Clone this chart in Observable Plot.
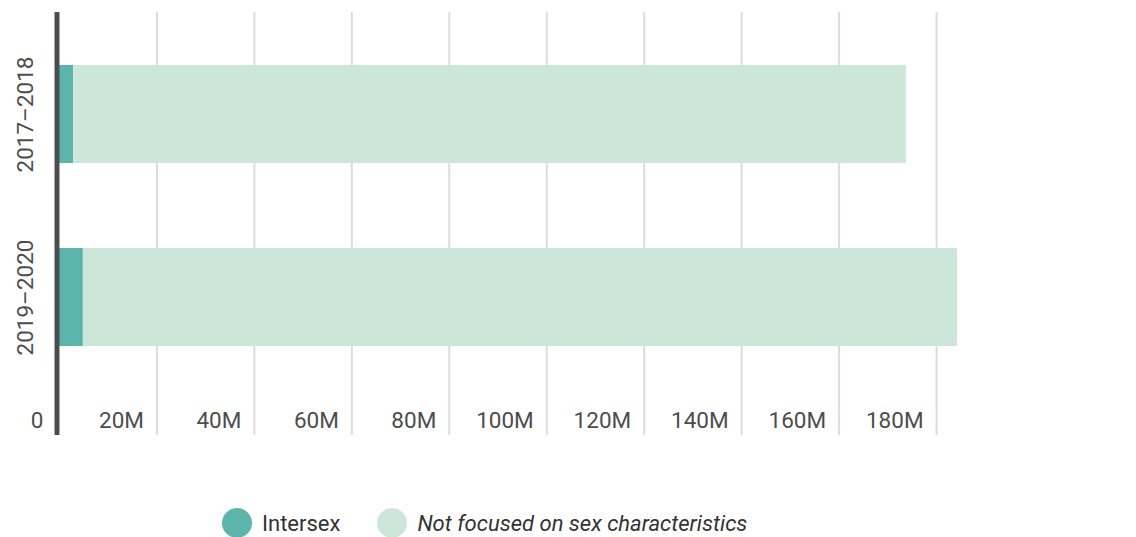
<!DOCTYPE html>
<html>
<head>
<meta charset="utf-8">
<script src="https://cdn.jsdelivr.net/npm/d3@7"></script>
<script src="https://cdn.jsdelivr.net/npm/@observablehq/plot@0.6"></script>
<style>
  body { margin: 0; background: #fff; font-family: Roboto, "Noto Sans", sans-serif; }
  #chart svg { display: block; }
  .legend { display: flex; align-items: center; margin-left: 222px; margin-top: 38px; height: 30px; font-size: 22px; color: #333; }
  .legend .sw { width: 30px; height: 30px; border-radius: 50%; display: inline-block; margin-right: 10px; }
  .legend .item { display: flex; align-items: center; margin-right: 37px; }
</style>
</head>
<body>
<div id="chart"></div>
<div class="legend" id="legend"></div>
<script>
const years = ["2017–2018", "2019–2020"];
const seriesNames = ["Intersex", "Not focused on sex characteristics"];
const intersex = [2.9e6, 4.9e6];
const notFocused = [170.9e6, 179.4e6];
const seriesColors = ["#5bb5aa", "#cce7da"];
const xTicks = [0, 20e6, 40e6, 60e6, 80e6, 100e6, 120e6, 140e6, 160e6, 180e6];
const xTickLabels = ["0", "20M", "40M", "60M", "80M", "100M", "120M", "140M", "160M", "180M"];

const rows = [];
years.forEach((y, i) => {
  rows.push({year: y, series: seriesNames[0], value: intersex[i]});
  rows.push({year: y, series: seriesNames[1], value: notFocused[i]});
});
const tickLabel = v => xTickLabels[xTicks.indexOf(v)];

const chart = Plot.plot({
  width: 1136,
  height: 470,
  marginLeft: 59,
  marginRight: 102.5,
  marginTop: 12,
  marginBottom: 35,
  style: {fontFamily: "Roboto, sans-serif", fontSize: "22px", color: "#4d4d4d", background: "#fff"},
  x: {domain: [0, 200e6], axis: null},
  y: {domain: years, range: [12, 398], paddingInner: 0.467, paddingOuter: 0.283, axis: null},
  color: {domain: seriesNames, range: seriesColors},
  marks: [
    Plot.ruleX(xTicks.slice(1), {stroke: "#dcdcdc", strokeWidth: 2}),
    Plot.barX(rows, Plot.stackX({y: "year", x: "value", fill: "series"})),
    Plot.ruleX([0], {stroke: "#4d4d4d", strokeWidth: 5, dx: -2.5}),
    Plot.text(xTicks.slice(1), {x: d => d, text: tickLabel, frameAnchor: "bottom", dy: -8, dx: -13, textAnchor: "end", fill: "#4d4d4d", fontSize: 22.5}),
    Plot.text([0], {x: d => d, text: tickLabel, frameAnchor: "bottom", dy: -8, dx: -16, textAnchor: "end", fill: "#4d4d4d", fontSize: 22.5}),
    Plot.text(years, {y: d => d, text: d => d, frameAnchor: "left", dx: -34, rotate: -90, textAnchor: "middle", fill: "#4d4d4d", fontSize: 22.5})
  ]
});
document.getElementById("chart").appendChild(chart);

const legend = document.getElementById("legend");
seriesNames.forEach((name, i) => {
  const item = document.createElement("span");
  item.className = "item";
  const sw = document.createElement("span");
  sw.className = "sw";
  sw.style.background = seriesColors[i];
  const label = document.createElement("span");
  label.textContent = name;
  if (i === 1) label.style.fontStyle = "italic";
  item.appendChild(sw);
  item.appendChild(label);
  legend.appendChild(item);
});
</script>
</body>
</html>
